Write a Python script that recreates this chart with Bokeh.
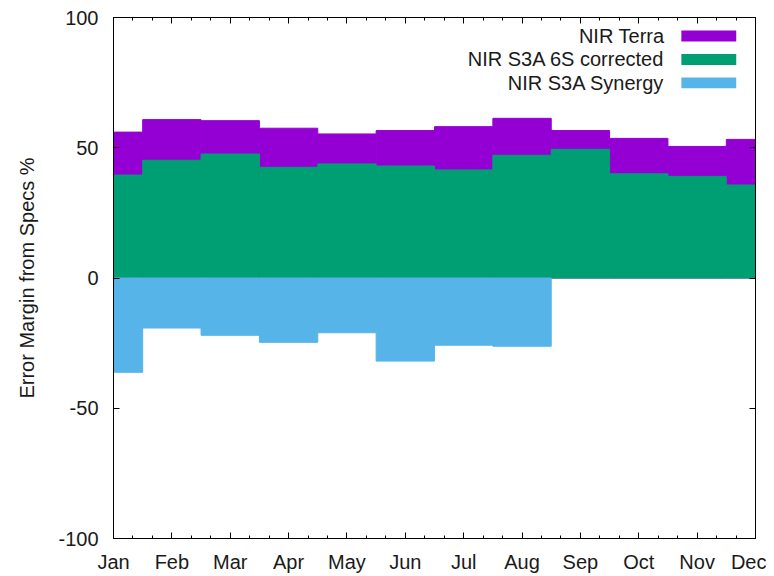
from bokeh.plotting import figure
from bokeh.models import FixedTicker, LinearAxis, Range1d
from bokeh.core.properties import value
from bokeh.embed import file_html
from bokeh.resources import INLINE

# ---- data ----
months = [1, 2, 3, 4, 5, 6, 7, 8, 9, 10, 11, 12]
month_labels = ["Jan", "Feb", "Mar", "Apr", "May", "Jun",
                "Jul", "Aug", "Sep", "Oct", "Nov", "Dec"]
nir_terra = [56.0, 60.8, 60.4, 57.5, 55.3, 56.6, 58.1, 61.3, 56.6, 53.6, 50.5, 53.2]
nir_s3a_6s = [39.5, 45.2, 47.6, 42.5, 43.8, 43.0, 41.5, 47.1, 49.4, 40.0, 39.0, 35.7]
syn_months = [1, 2, 3, 4, 5, 6, 7, 8]
nir_s3a_synergy = [-36.2, -19.2, -22.0, -24.7, -21.0, -31.9, -25.8, -26.2]
y_ticks = [-100, -50, 0, 50, 100]
y_tick_labels = ["-100", "-50", "0", "50", "100"]

series_names = ["NIR Terra", "NIR S3A 6S corrected", "NIR S3A Synergy"]
colors = ["#9400D3", "#009E73", "#56B4E9"]

FONT = "Liberation Sans"
FS = "20px"
TXT = "#1a1a1a"

p = figure(frame_width=642, frame_height=521,
           min_border_left=113, min_border_right=11,
           min_border_top=17, min_border_bottom=30,
           x_range=Range1d(1, 12), y_range=Range1d(-100, 100),
           output_backend="svg", toolbar_location=None,
           background_fill_color="white", border_fill_color="white")
p.xgrid.visible = False
p.ygrid.visible = False
p.outline_line_color = "black"
p.outline_line_width = 1

# ---- areas (histeps: each month is a step centred on it) ----
def steps(xs, ys, color):
    p.quad(left=[x - 0.5 for x in xs], right=[x + 0.5 for x in xs],
           bottom=[0] * len(xs), top=ys,
           fill_color=color, line_color=color, line_width=1)

steps(months, nir_terra, colors[0])
steps(months, nir_s3a_6s, colors[1])
steps(syn_months, nir_s3a_synergy, colors[2])

# ---- key (gnuplot style: text then swatch) ----
key_text_x = 10.44
key_box_left, key_box_right = 10.73, 11.67
key_rows = [92.9, 83.9, 74.9]
key_h = 2.1
p.text(x=[key_text_x] * 3, y=key_rows, text=series_names,
       text_align="right", text_baseline="middle",
       text_font=value(FONT), text_font_size=FS, text_color=TXT)
p.quad(left=[key_box_left] * 3, right=[key_box_right] * 3,
       bottom=[r - key_h for r in key_rows], top=[r + key_h for r in key_rows],
       fill_color=colors, line_color=None)

# ---- axes ----
minor = []
for m in months[:-1]:
    minor += [m + 1 / 3, m + 2 / 3]
xt = FixedTicker(ticks=months, minor_ticks=minor)
yt = FixedTicker(ticks=y_ticks, minor_ticks=[])

def style(ax):
    ax.axis_line_color = "black"
    ax.major_tick_in = 6
    ax.major_tick_out = 0
    ax.minor_tick_in = 3
    ax.minor_tick_out = 0
    ax.major_tick_line_color = "black"
    ax.minor_tick_line_color = "black"
    ax.major_label_text_font = FONT
    ax.major_label_text_font_size = FS
    ax.major_label_text_color = TXT

xa = p.xaxis[0]
xa.ticker = xt
xa.major_label_overrides = {m: lab for m, lab in zip(months, month_labels)}
style(xa)
xa.major_label_standoff = 12

ya = p.yaxis[0]
ya.ticker = yt
ya.major_label_overrides = {t: lab for t, lab in zip(y_ticks, y_tick_labels)}
style(ya)
ya.major_label_standoff = 15
ya.axis_label = "Error Margin from Specs %"
ya.axis_label_text_font = FONT
ya.axis_label_text_font_size = FS
ya.axis_label_text_font_style = "normal"
ya.axis_label_text_color = TXT
ya.axis_label_standoff = 17

# mirrored tick-only axes (top and right), as in gnuplot's border tics
top = LinearAxis(ticker=xt, major_label_overrides={m: "" for m in months})
style(top)
top.major_label_standoff = 0
p.add_layout(top, "above")
right = LinearAxis(ticker=yt, major_label_overrides={t: "" for t in y_ticks})
style(right)
right.major_label_standoff = 0
p.add_layout(right, "right")

open("out.html", "w").write(file_html(p, INLINE))
